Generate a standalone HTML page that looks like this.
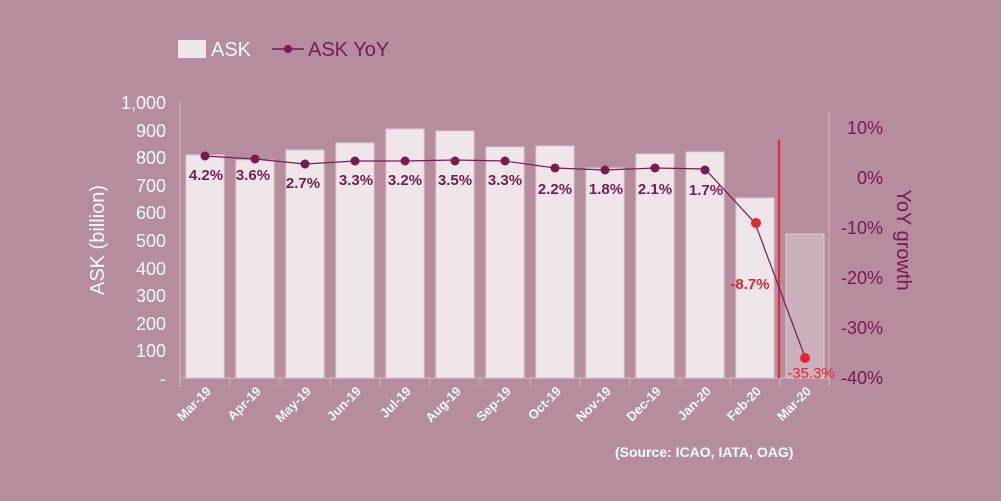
<!DOCTYPE html><html><head><style>body{margin:0;background:#b68c9f}svg{display:block}text{font-family:"Liberation Sans",sans-serif}</style></head><body>
<svg width="1001" height="501" viewBox="0 0 1001 501">
<rect width="1001" height="501" fill="#b68c9f"/>
<rect x="178" y="40" width="28" height="18" fill="#efe6ea"/>
<text x="211" y="56" font-size="20" fill="#fff">ASK</text>
<line x1="272" y1="49" x2="304" y2="49" stroke="#7a1a4e" stroke-width="1.5"/><circle cx="288" cy="49" r="4" fill="#7a1a4e"/>
<text x="308" y="56" font-size="20" fill="#7a1a4e">ASK YoY</text>
<g stroke="#d4b9c6" stroke-width="1">
<line x1="180" y1="102" x2="180" y2="387"/><line x1="180" y1="378" x2="829" y2="378"/><line x1="829" y1="110" x2="829" y2="387"/>
<line x1="230" y1="378" x2="230" y2="386"/><line x1="280" y1="378" x2="280" y2="386"/><line x1="330" y1="378" x2="330" y2="386"/><line x1="380" y1="378" x2="380" y2="386"/><line x1="430" y1="378" x2="430" y2="386"/><line x1="480" y1="378" x2="480" y2="386"/><line x1="530" y1="378" x2="530" y2="386"/><line x1="580" y1="378" x2="580" y2="386"/><line x1="630" y1="378" x2="630" y2="386"/><line x1="680" y1="378" x2="680" y2="386"/><line x1="730" y1="378" x2="730" y2="386"/><line x1="780" y1="378" x2="780" y2="386"/>
</g>
<g font-size="18" fill="#fff" text-anchor="end">
<text x="166" y="109">1,000</text><text x="166" y="137">900</text><text x="166" y="164">800</text><text x="166" y="192">700</text><text x="166" y="219">600</text><text x="166" y="247">500</text><text x="166" y="275">400</text><text x="166" y="302">300</text><text x="166" y="330">200</text><text x="166" y="357">100</text><text x="166" y="385">-</text>
</g>
<g font-size="18" fill="#7a1a4e" text-anchor="end">
<text x="883" y="134">10%</text><text x="883" y="184">0%</text><text x="883" y="234">-10%</text><text x="883" y="284">-20%</text><text x="883" y="334">-30%</text><text x="883" y="384">-40%</text>
</g>
<text transform="translate(104,240) rotate(-90)" font-size="20" fill="#fff" text-anchor="middle">ASK (billion)</text>
<text transform="translate(897,240) rotate(90)" font-size="20" fill="#7a1a4e" text-anchor="middle">YoY growth</text>
<g fill="#efe6ea" stroke="#dccbd3">
<rect x="186" y="155" width="38" height="223"/><rect x="236" y="160" width="38" height="218"/><rect x="286" y="150" width="38" height="228"/><rect x="336" y="143" width="38" height="235"/><rect x="386" y="129" width="38" height="249"/><rect x="436" y="131" width="38" height="247"/><rect x="486" y="147" width="38" height="231"/><rect x="536" y="146" width="38" height="232"/><rect x="586" y="168" width="38" height="210"/><rect x="636" y="154" width="38" height="224"/><rect x="686" y="152" width="38" height="226"/><rect x="736" y="198" width="38" height="180"/>
<rect x="786" y="234" width="38" height="144" fill="#cbb0bd"/>
</g>
<line x1="779" y1="140" x2="779" y2="378" stroke="#e8262a" stroke-width="2"/>
<polyline fill="none" stroke="#7a1a4e" stroke-width="1.2" points="205,156 255,159 305,164 355,161 405,161 455,160 505,161 555,168 605,170 655,168 705,169 755,223 805,357"/>
<g fill="#7a1a4e"><circle cx="205" cy="156" r="4.5"/><circle cx="255" cy="159" r="4.5"/><circle cx="305" cy="164" r="4.5"/><circle cx="355" cy="161" r="4.5"/><circle cx="405" cy="161" r="4.5"/><circle cx="455" cy="161" r="4.5"/><circle cx="505" cy="161" r="4.5"/><circle cx="555" cy="168" r="4.5"/><circle cx="605" cy="170" r="4.5"/><circle cx="655" cy="168" r="4.5"/><circle cx="705" cy="170" r="4.5"/></g>
<circle cx="756" cy="223" r="5" fill="#e8262a"/><circle cx="805" cy="358" r="5" fill="#e8262a"/>
<g font-size="15" font-weight="bold" fill="#7a1a4e" text-anchor="middle">
<text x="206" y="180">4.2%</text><text x="253" y="180">3.6%</text><text x="303" y="188">2.7%</text><text x="356" y="185">3.3%</text><text x="405" y="185">3.2%</text><text x="455" y="185">3.5%</text><text x="505" y="185">3.3%</text><text x="555" y="194">2.2%</text><text x="606" y="194">1.8%</text><text x="655" y="194">2.1%</text><text x="706" y="195">1.7%</text>
</g>
<text x="750" y="289" font-size="15" font-weight="bold" fill="#e8262a" text-anchor="middle">-8.7%</text>
<text x="811" y="378" font-size="15" fill="#e8262a" text-anchor="middle">-35.3%</text>
<g font-size="13" font-weight="bold" fill="#fff" text-anchor="end">
<text transform="translate(212,392) rotate(-45)">Mar-19</text><text transform="translate(262,392) rotate(-45)">Apr-19</text><text transform="translate(312,392) rotate(-45)">May-19</text><text transform="translate(362,392) rotate(-45)">Jun-19</text><text transform="translate(412,392) rotate(-45)">Jul-19</text><text transform="translate(462,392) rotate(-45)">Aug-19</text><text transform="translate(512,392) rotate(-45)">Sep-19</text><text transform="translate(562,392) rotate(-45)">Oct-19</text><text transform="translate(612,392) rotate(-45)">Nov-19</text><text transform="translate(662,392) rotate(-45)">Dec-19</text><text transform="translate(712,392) rotate(-45)">Jan-20</text><text transform="translate(762,392) rotate(-45)">Feb-20</text><text transform="translate(812,392) rotate(-45)">Mar-20</text>
</g>
<text x="615" y="457" font-size="14" font-weight="bold" fill="#fff">(Source: ICAO, IATA, OAG)</text>
</svg></body></html>
